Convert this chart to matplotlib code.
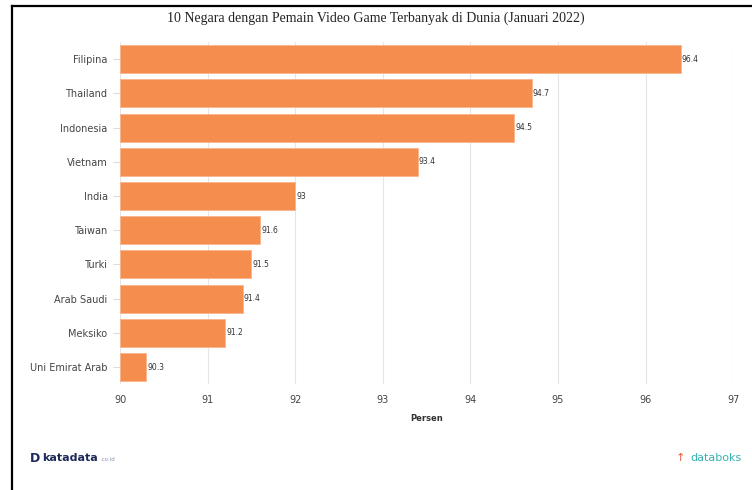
import matplotlib.pyplot as plt
from matplotlib.lines import Line2D

negara = ["Filipina", "Thailand", "Indonesia", "Vietnam", "India", "Taiwan",
          "Turki", "Arab Saudi", "Meksiko", "Uni Emirat Arab"]
persen = [96.4, 94.7, 94.5, 93.4, 92.0, 91.6, 91.5, 91.4, 91.2, 90.3]
label_nilai = ["96.4", "94.7", "94.5", "93.4", "93", "91.6", "91.5", "91.4", "91.2", "90.3"]
xticks = [90, 91, 92, 93, 94, 95, 96, 97]

fig = plt.figure(figsize=(7.52, 4.90), dpi=100)
ax = fig.add_axes([0.1596, 0.216, 0.8154, 0.698])

pos = list(range(len(negara)))
ax.barh(pos, [p - 90 for p in persen], left=90, height=0.82,
        color="#F58D4F", edgecolor="#F9B58C", linewidth=0.6, zorder=2)
for y, p, t in zip(pos, persen, label_nilai):
    ax.text(p + 0.01, y, t, va="center", ha="left", fontsize=5.5, color="#333333")

ax.set_xlim(90, 97)
ax.set_ylim(len(negara) - 0.5, -0.5)
ax.set_xticks(xticks)
ax.set_xticklabels([str(x) for x in xticks], fontsize=7, color="#444444")
ax.set_yticks(pos)
ax.set_yticklabels(negara, fontsize=7, color="#444444")
ax.tick_params(axis="x", length=0, pad=8)
ax.tick_params(axis="y", length=5, color="#dddddd", pad=4)
ax.grid(axis="x", color="#e6e6e6", linewidth=0.8, zorder=0)
for s in ax.spines.values():
    s.set_visible(False)
ax.set_xlabel("Persen", fontsize=6, fontweight="bold", color="#333333", labelpad=6)

fig.text(0.5, 0.963, "10 Negara dengan Pemain Video Game Terbanyak di Dunia (Januari 2022)",
         ha="center", va="center", fontsize=10, family="Liberation Serif", color="#222222")

# frame on left and top
fig.add_artist(Line2D([0.016, 0.016], [0.0, 0.988], color="black", linewidth=1.6,
                      transform=fig.transFigure))
fig.add_artist(Line2D([0.016, 1.0], [0.988, 0.988], color="black", linewidth=1.6,
                      transform=fig.transFigure))

# logos
fig.text(0.04, 0.065, "D", fontsize=9, fontweight="bold", color="#1f2a5a", va="center")
fig.text(0.056, 0.065, "katadata", fontsize=8, fontweight="bold", color="#1f2a5a", va="center")
fig.text(0.133, 0.063, ".co.id", fontsize=4, color="#8890aa", va="center")
fig.text(0.905, 0.065, "\u2191", fontsize=8, color="#e8593b", va="center", ha="center")
fig.text(0.918, 0.065, "databoks", fontsize=8, color="#37b3b0", va="center")

fig.savefig("out.png", dpi=100)
